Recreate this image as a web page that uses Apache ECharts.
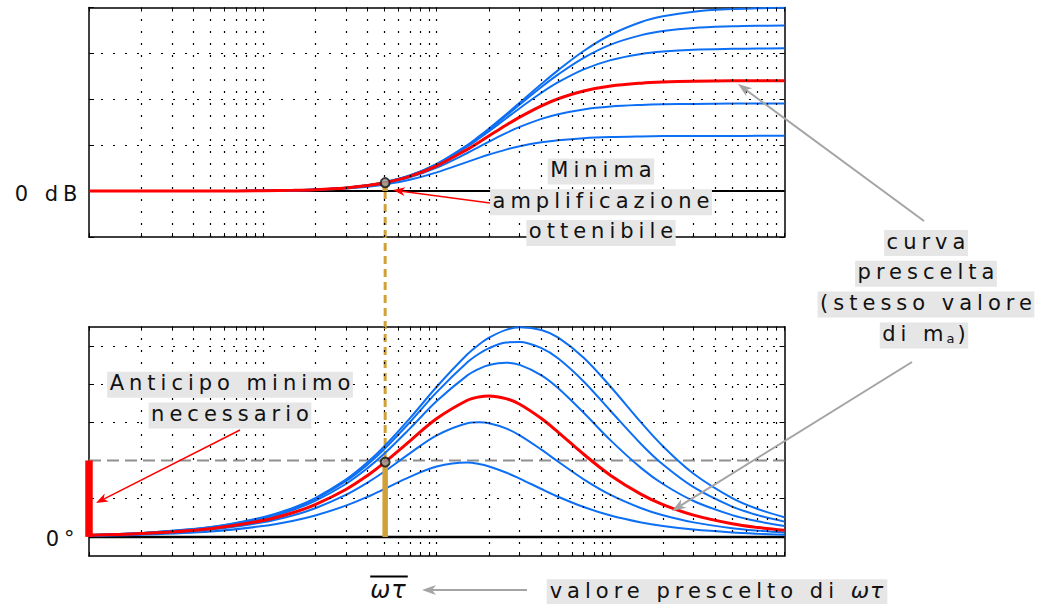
<!DOCTYPE html>
<html lang="it">
<head>
<meta charset="utf-8">
<title>Rete anticipatrice: scelta della curva e di ωτ</title>
<script src="https://cdn.jsdelivr.net/npm/echarts@6.0.0/dist/echarts.min.js"></script>
<style>
  html, body { margin: 0; padding: 0; background: #fff; }
  #chart { width: 1037px; height: 604px; }
  /* tracked lettering for the annotations */
  #chart svg text { letter-spacing: 5px; }
  #chart svg text[style*="italic"], #chart svg text[font-style="italic"] { letter-spacing: 1px; }
</style>
</head>
<body>
<div id="chart"></div>
<script>
// normalised frequency ωτ (log axis)
const omegaTau = [0.01, 0.02, 0.05, 0.1, 0.15, 0.2, 0.3, 0.4, 0.5, 0.7, 1, 1.5, 1.75, 2, 2.5, 3, 4, 5, 7, 10, 15, 20, 30, 50, 70, 100];

// family parameter m of the lead network
const mValues = [2, 3, 4, 6, 8, 10];

// magnitude, dB
const magM2  = [0.00, 0.00, 0.01, 0.03, 0.07, 0.13, 0.28, 0.47, 0.71, 1.23, 2.04, 3.18, 3.62, 3.98, 4.52, 4.88, 5.31, 5.55, 5.77, 5.89, 5.96, 5.99, 6.01, 6.01, 6.02, 6.02];
const magM3  = [0.00, 0.00, 0.01, 0.04, 0.09, 0.15, 0.33, 0.57, 0.85, 1.50, 2.55, 4.15, 4.82, 5.39, 6.31, 6.99, 7.87, 8.38, 8.90, 9.21, 9.39, 9.46, 9.50, 9.53, 9.54, 9.54];
const magM4  = [0.00, 0.00, 0.01, 0.04, 0.09, 0.16, 0.35, 0.60, 0.90, 1.60, 2.75, 4.55, 5.33, 6.02, 7.17, 8.06, 9.29, 10.06, 10.90, 11.44, 11.76, 11.88, 11.97, 12.02, 12.03, 12.03];
const magM6  = [0.00, 0.00, 0.01, 0.04, 0.09, 0.17, 0.36, 0.63, 0.94, 1.67, 2.89, 4.86, 5.73, 6.53, 7.91, 9.03, 10.71, 11.86, 13.26, 14.27, 14.94, 15.20, 15.40, 15.50, 15.53, 15.55];
const magM8  = [0.00, 0.00, 0.01, 0.04, 0.10, 0.17, 0.37, 0.63, 0.95, 1.70, 2.94, 4.97, 5.88, 6.73, 8.20, 9.43, 11.34, 12.72, 14.52, 15.96, 16.99, 17.43, 17.77, 17.95, 18.01, 18.03];
const magM10 = [0.00, 0.00, 0.01, 0.04, 0.10, 0.17, 0.37, 0.64, 0.96, 1.71, 2.97, 5.02, 5.96, 6.82, 8.34, 9.63, 11.66, 13.18, 15.26, 17.03, 18.42, 19.04, 19.55, 19.83, 19.91, 19.96];

// phase lead, degrees
const phaseM2  = [0.29, 0.57, 1.43, 2.85, 4.24, 5.60, 8.17, 10.49, 12.53, 15.70, 18.43, 19.44, 19.07, 18.43, 16.86, 15.26, 12.53, 10.49, 7.81, 5.60, 3.78, 2.85, 1.91, 1.15, 0.82, 0.57];
const phaseM3  = [0.38, 0.76, 1.91, 3.80, 5.67, 7.50, 10.99, 14.21, 17.10, 21.86, 26.57, 29.74, 30.00, 29.74, 28.39, 26.57, 22.83, 19.66, 15.07, 10.99, 7.50, 5.67, 3.80, 2.29, 1.64, 1.15];
const phaseM4  = [0.43, 0.86, 2.15, 4.28, 6.38, 8.45, 12.41, 16.09, 19.44, 25.07, 30.96, 35.75, 36.63, 36.87, 36.19, 34.70, 30.96, 27.35, 21.62, 16.09, 11.12, 8.45, 5.69, 3.43, 2.45, 1.72];
const phaseM6  = [0.48, 0.95, 2.39, 4.76, 7.10, 9.40, 13.84, 17.99, 21.80, 28.34, 35.54, 42.27, 43.99, 45.00, 45.58, 45.00, 42.27, 38.89, 32.47, 25.25, 17.99, 13.84, 9.40, 5.70, 4.08, 2.86];
const phaseM8  = [0.50, 1.00, 2.50, 4.99, 7.46, 9.88, 14.55, 18.94, 22.99, 29.99, 37.87, 45.69, 47.92, 49.40, 50.84, 51.01, 49.40, 46.69, 40.68, 32.95, 24.26, 18.94, 13.02, 7.94, 5.70, 4.00];
const phaseM10 = [0.52, 1.03, 2.58, 5.14, 7.67, 10.16, 14.98, 19.51, 23.70, 30.99, 39.29, 47.78, 50.33, 52.13, 54.16, 54.87, 54.16, 52.13, 46.88, 39.29, 29.88, 23.70, 16.53, 10.16, 7.31, 5.14];

// chosen working point
const chosenM = 4;
const chosenOmegaTau = 0.505;
const chosenMagDb = 0.92;
const chosenPhaseDeg = 19.6;
const minLeadDeg = 20;

// axis ranges and grid lines
const freqMin = 0.01, freqMax = 100;
const magMin = -5, magMax = 20, magStep = 5;
const phaseMin = -5, phaseMax = 55;
const phaseTicks = [0, 10, 20, 30, 40, 50];
const magGridLines = [5, 10, 15];
const phaseGridLines = [10, 30, 40, 50];
const freqGridLines = [0.02, 0.03, 0.04, 0.05, 0.06, 0.07, 0.08, 0.09, 0.1,
  0.2, 0.3, 0.4, 0.5, 0.6, 0.7, 0.8, 0.9, 1,
  2, 3, 4, 5, 6, 7, 8, 9, 10,
  20, 30, 40, 50, 60, 70, 80, 90];
const freqTicks = [freqMin].concat(freqGridLines, [freqMax]);

const BLUE = '#0d6ff4';
const RED = '#ff0000';
const GOLD = '#d1a139';
const ARROW_GRAY = '#a4a4a4';
const LABEL_BG = '#e6e6e6';
const INK = '#111111';
const FONT = 'DejaVu Sans';
const SPACING = 5;       // same as the CSS letter-spacing
const ITALIC_SPACING = 1;

const magCurves = [magM2, magM3, magM4, magM6, magM8, magM10];
const phaseCurves = [phaseM2, phaseM3, phaseM4, phaseM6, phaseM8, phaseM10];

const chart = echarts.init(document.getElementById('chart'), null, { renderer: 'svg' });

function freqAxis(gridIndex, position) {
  return {
    type: 'log', logBase: 10, gridIndex: gridIndex, position: position,
    min: freqMin, max: freqMax,
    axisLine: { show: true, onZero: false, lineStyle: { color: '#000', width: 1.5 } },
    axisTick: { show: true, inside: true, length: 4, customValues: freqTicks,
                lineStyle: { color: '#000', width: 1 } },
    axisLabel: { show: false },
    splitLine: { show: false }
  };
}
function magAxis(position) {
  return {
    type: 'value', gridIndex: 0, position: position,
    min: magMin, max: magMax, interval: magStep,
    axisLine: { show: true, onZero: false, lineStyle: { color: '#000', width: 1.5 } },
    axisTick: { show: true, inside: true, length: 5, lineStyle: { color: '#000', width: 1 } },
    axisLabel: { show: false },
    splitLine: { show: false }
  };
}
function phaseAxis(position) {
  return {
    type: 'value', gridIndex: 1, position: position,
    min: phaseMin, max: phaseMax,
    axisLine: { show: true, onZero: false, lineStyle: { color: '#000', width: 1.5 } },
    axisTick: { show: true, inside: true, length: 5, customValues: phaseTicks,
                lineStyle: { color: '#000', width: 1 } },
    axisLabel: { show: false },
    splitLine: { show: false }
  };
}

const gridDots = { type: [2, 10], color: '#000', width: 1.2 };

function referenceLine(axisIdx, y, style, z, gridLinesY) {
  const s = {
    type: 'line', xAxisIndex: axisIdx, yAxisIndex: axisIdx, silent: true, z: z,
    data: [[freqMin, y], [freqMax, y]], showSymbol: false, animation: false,
    lineStyle: style
  };
  if (gridLinesY) {
    s.markLine = {
      silent: true, symbol: ['none', 'none'], animation: false,
      label: { show: false }, lineStyle: gridDots,
      data: freqGridLines.map(v => ({ xAxis: v })).concat(gridLinesY.map(v => ({ yAxis: v })))
    };
  }
  return s;
}

function curve(values, axisIdx, i, label) {
  const chosen = mValues[i] === chosenM;
  return {
    type: 'line', name: label + ' m=' + mValues[i],
    xAxisIndex: axisIdx, yAxisIndex: axisIdx, silent: true, animation: false,
    data: omegaTau.map((w, k) => [w, values[k]]),
    showSymbol: false, smooth: 0.35, z: chosen ? 4 : 3,
    lineStyle: { color: chosen ? RED : BLUE, width: chosen ? 3 : 2 }
  };
}

const series = [
  referenceLine(0, 0, { color: '#000', width: 2 }, 2, magGridLines),
  referenceLine(2, 0, { color: '#000', width: 2.5 }, 2, phaseGridLines),
  referenceLine(2, minLeadDeg, { color: '#8f8f8f', width: 2, type: [12, 6] }, 2, null)
];
magCurves.forEach((v, i) => series.push(curve(v, 0, i, 'modulo')));
phaseCurves.forEach((v, i) => series.push(curve(v, 2, i, 'fase')));

// amplification and lead reached at the chosen ωτ
series.push({
  type: 'line', xAxisIndex: 0, yAxisIndex: 0, silent: true, animation: false, z: 5,
  data: [[chosenOmegaTau, 0], [chosenOmegaTau, chosenMagDb]], showSymbol: false,
  lineStyle: { color: GOLD, width: 5.5 }
});
series.push({
  type: 'line', xAxisIndex: 2, yAxisIndex: 2, silent: true, animation: false, z: 5,
  data: [[chosenOmegaTau, 0], [chosenOmegaTau, chosenPhaseDeg]], showSymbol: false,
  lineStyle: { color: GOLD, width: 5.5 }
});
// minimum lead required
series.push({
  type: 'line', xAxisIndex: 2, yAxisIndex: 2, silent: true, animation: false, z: 5, clip: false,
  data: [[freqMin, 0], [freqMin, minLeadDeg]], showSymbol: false,
  lineStyle: { color: RED, width: 7.5, cap: 'butt' }
});
const markerStyle = { color: '#9a9a9a', borderColor: '#111', borderWidth: 2 };
series.push({
  type: 'scatter', xAxisIndex: 0, yAxisIndex: 0, silent: true, animation: false, z: 6,
  data: [[chosenOmegaTau, chosenMagDb]], symbolSize: 9, itemStyle: markerStyle
});
series.push({
  type: 'scatter', xAxisIndex: 2, yAxisIndex: 2, silent: true, animation: false, z: 6,
  data: [[chosenOmegaTau, chosenPhaseDeg]], symbolSize: 9, itemStyle: markerStyle
});

chart.setOption({
  animation: false,
  backgroundColor: '#fff',
  textStyle: { fontFamily: FONT },
  grid: [
    { left: 89, width: 695.5, top: 7.5, height: 229.5 },
    { left: 89, width: 695.5, top: 326.7, height: 229.3 }
  ],
  xAxis: [freqAxis(0, 'bottom'), freqAxis(0, 'top'), freqAxis(1, 'bottom'), freqAxis(1, 'top')],
  yAxis: [magAxis('left'), magAxis('right'), phaseAxis('left'), phaseAxis('right')],
  series: series
});

// ---- annotations ----
const meas = document.createElement('canvas').getContext('2d');
function advance(str, size, italic) {
  meas.font = (italic ? 'italic ' : '') + size + 'px "' + FONT + '"';
  return meas.measureText(str).width;
}
function inkWidth(str, size, italic) {
  const sp = italic ? ITALIC_SPACING : SPACING;
  return advance(str, size, italic) + sp * (Array.from(str).length - 1);
}
function textEl(str, x, cy, size, italic) {
  return {
    type: 'text', x: x, y: cy, z: 101, silent: true,
    style: {
      text: str, fontFamily: FONT, fontSize: size, fontStyle: italic ? 'italic' : 'normal',
      fill: INK, align: 'left', verticalAlign: 'middle', textAlign: 'left', textVerticalAlign: 'middle'
    }
  };
}
function boxEl(x1, x2, cy) {
  return { type: 'rect', z: 100, silent: true,
           shape: { x: x1, y: cy - 11.5, width: x2 - x1, height: 26 },
           style: { fill: LABEL_BG } };
}
function boxedLine(str, cx, cy) {
  const w = inkWidth(str, 21, false);
  const left = cx - w / 2;
  return [boxEl(left - 2.5, left + w + 2.5, cy), textEl(str, left, cy, 21, false)];
}
function arrow(x1, y1, x2, y2, color, width, len, half) {
  const dx = x2 - x1, dy = y2 - y1, L = Math.hypot(dx, dy);
  const ux = dx / L, uy = dy / L, px = -uy, py = ux;
  const bx = x2 - ux * len, by = y2 - uy * len;
  const nx = x2 - ux * len * 0.72, ny = y2 - uy * len * 0.72;
  return [
    { type: 'line', z: 99, silent: true, shape: { x1: x1, y1: y1, x2: nx, y2: ny },
      style: { stroke: color, lineWidth: width } },
    { type: 'polygon', z: 99, silent: true,
      shape: { points: [[x2, y2], [bx + px * half, by + py * half], [nx, ny], [bx - px * half, by - py * half]] },
      style: { fill: color } }
  ];
}

const els = [];

// guide from the amplification marker down to the phase marker
const pMag0 = chart.convertToPixel({ xAxisIndex: 0, yAxisIndex: 0 }, [chosenOmegaTau, 0]);
const pPhase = chart.convertToPixel({ xAxisIndex: 2, yAxisIndex: 2 }, [chosenOmegaTau, chosenPhaseDeg]);
els.push({ type: 'line', z: 1, silent: true,
  shape: { x1: pMag0[0], y1: pMag0[1], x2: pPhase[0], y2: pPhase[1] },
  style: { stroke: GOLD, lineWidth: 3, lineDash: [8, 5] } });

// axis reference labels
const zeroDb = '0 dB';
els.push(textEl(zeroDb, 77.5 - inkWidth(zeroDb, 21, false), 193.5, 21, false));
els.push(textEl('0°', 45.7, 539.4, 21, false));

// "Minima amplificazione ottenibile"
['Minima', 'amplificazione', 'ottenibile'].forEach((s, i) => {
  els.push.apply(els, boxedLine(s, 601, 170 + i * 30.7));
});
els.push.apply(els, arrow(490, 203, 393, 190, RED, 1.5, 12, 4.5));

// "curva prescelta (stesso valore di mₐ)"
['curva', 'prescelta', '(stesso valore'].forEach((s, i) => {
  els.push.apply(els, boxedLine(s, 926, 241.5 + i * 30.8));
});
(function () {
  const cy = 334;
  const p1 = 'di m';
  const w1 = inkWidth(p1, 21, false);
  const wa = advance('a', 13, false);
  const wp = advance(')', 21, false);
  const total = w1 + 3 + wa + 3 + wp;
  const left = 924 - total / 2;
  els.push(boxEl(left - 2.5, left + total + 2.5, cy));
  els.push(textEl(p1, left, cy, 21, false));
  els.push(textEl('a', left + w1 + 3, cy + 4.5, 13, false));
  els.push(textEl(')', left + w1 + 3 + wa + 3, cy, 21, false));
})();
els.push.apply(els, arrow(924, 221, 738, 84, ARROW_GRAY, 2, 14, 5));
els.push.apply(els, arrow(912, 362, 672, 511, ARROW_GRAY, 2, 14, 5));

// "Anticipo minimo necessario"
['Anticipo minimo', 'necessario'].forEach((s, i) => {
  els.push.apply(els, boxedLine(s, 230, 383.2 + i * 30.8));
});
els.push.apply(els, arrow(240, 430, 96, 503, RED, 1.5, 12, 4.5));

// bottom row: ω̄τ  ←  valore prescelto di ωτ
(function () {
  const cy = 590.8;
  const p1 = 'valore prescelto di ';
  const w1 = advance(p1, 21, false) + SPACING * Array.from(p1).length;
  const w2 = inkWidth('ωτ', 22, true);
  const total = w1 + w2;
  const left = 716.5 - total / 2;
  els.push(boxEl(left - 3, left + total + 4, cy));
  els.push(textEl(p1, left, cy, 21, false));
  els.push(textEl('ωτ', left + w1, cy, 22, true));

  const wb = inkWidth('ωτ', 24, true);
  const lb = 388 - wb / 2;
  els.push(textEl('ωτ', lb, 589.5, 24, true));
  els.push({ type: 'line', z: 101, silent: true,
    shape: { x1: lb, y1: 576.5, x2: lb + wb + 2, y2: 576.5 },
    style: { stroke: '#000', lineWidth: 2 } });
})();
els.push.apply(els, arrow(527, 590, 422, 590, ARROW_GRAY, 2, 14, 5));

chart.setOption({ graphic: { elements: els } });
</script>
</body>
</html>
